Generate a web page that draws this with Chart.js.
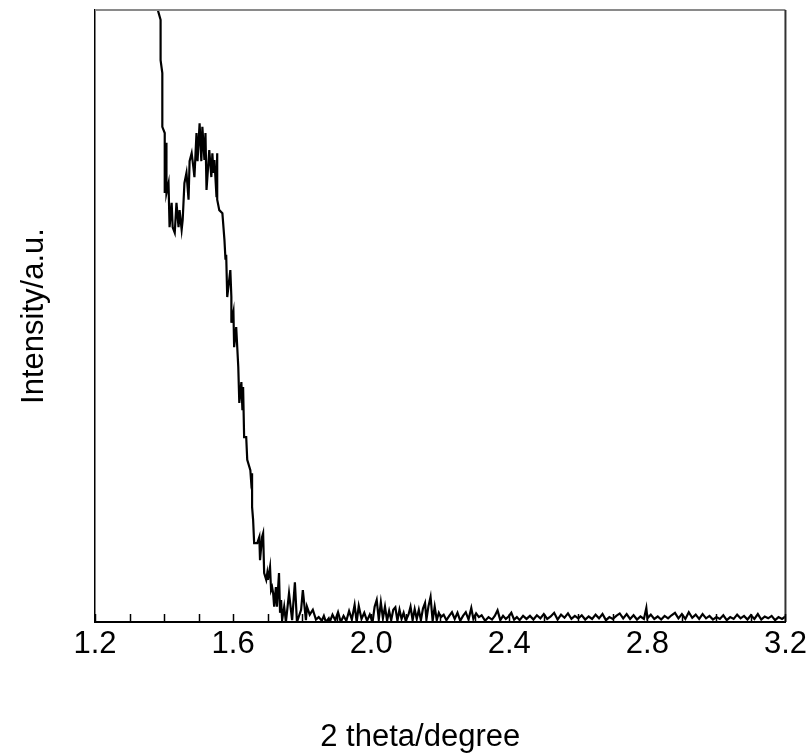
<!DOCTYPE html>
<html>
<head>
<meta charset="utf-8">
<script src="https://cdn.jsdelivr.net/npm/chart.js@4/dist/chart.umd.min.js"></script>
<style>
html,body{margin:0;padding:0;background:#fff;}
#wrap{width:811px;height:756px;position:relative;}
</style>
</head>
<body>
<div id="wrap"><canvas id="c" width="811" height="756"></canvas></div>
<script>
// 2 theta (degree)
const twoTheta = [
1.380,1.383,1.390,1.390,1.395,1.395,1.402,1.402,1.407,1.407,1.413,1.416,1.422,1.425,1.431,1.436,1.442,1.445,1.451,1.454,
1.459,1.465,1.471,1.474,1.480,1.485,1.488,1.494,1.497,1.503,1.508,1.511,1.517,1.520,1.523,1.531,1.537,1.540,1.543,1.546,
1.552,1.554,1.554,1.560,1.569,1.575,1.578,1.580,1.583,1.592,1.595,1.595,1.601,1.603,1.609,1.615,1.618,1.624,1.627,1.629,
1.632,1.638,1.641,1.650,1.652,1.655,1.655,1.658,1.661,1.670,1.676,1.678,1.684,1.687,1.690,1.696,1.699,1.701,1.707,1.710,
1.713,1.716,1.719,1.724,1.727,1.733,1.736,1.739,1.742,1.748,1.753,1.762,1.771,1.779,1.785,1.797,1.802,1.811,1.814,1.822,
1.831,1.840,1.848,1.857,1.863,1.869,1.877,
1.880,1.888,1.896,1.904,1.912,1.920,1.928,1.936,1.944,1.952,1.958,1.964,1.972,1.980,1.988,1.996,2.004,2.010,2.016,2.022,
2.028,2.034,2.040,2.046,2.052,2.058,2.064,2.070,2.076,2.082,2.088,2.094,2.100,2.108,2.114,2.120,2.126,2.132,2.138,2.144,
2.150,2.156,2.160,2.166,2.172,2.178,2.184,2.190,2.196,2.202,2.210,2.218,2.226,2.234,2.242,2.250,2.258,2.266,2.274,2.282,
2.290,2.296,2.304,2.312,2.320,2.330,2.340,2.350,2.358,2.366,2.374,2.382,2.390,2.398,2.406,2.414,2.422,2.430,2.440,2.450,
2.46,2.47,2.48,2.49,2.50,2.51,2.52,2.53,2.54,2.55,2.56,2.57,2.58,2.59,2.60,2.61,2.62,2.63,2.64,2.65,
2.66,2.67,2.68,2.69,2.70,2.71,2.72,2.73,2.74,2.75,2.76,2.77,2.78,2.79,2.797,2.80,2.81,2.82,2.83,2.84,
2.85,2.86,2.87,2.88,2.89,2.90,2.91,2.92,2.93,2.94,2.95,2.96,2.97,2.98,2.99,3.00,3.01,3.02,3.03,3.04,
3.05,3.06,3.07,3.08,3.09,3.10,3.11,3.12,3.13,3.14,3.15,3.16,3.17,3.18,3.19,3.20
];
// Intensity (a.u.)
const intensity = [
104,99.8,98.4,91.8,89.7,80.9,79.9,70.1,78.3,70.1,71.7,64.5,68.5,64.5,63.6,68.5,64.5,67.3,64.1,65.7,
71.7,73.4,69.0,75.3,76.6,74.3,72.7,79.9,75.3,81.5,75.3,80.9,75.5,79.9,70.6,77.1,72.7,76.6,73.4,75.5,
69.4,76.6,69.0,67.3,66.8,62.4,59.2,60.0,53.1,57.5,53.1,48.9,50.7,44.9,48.2,41.7,35.8,39.2,34.6,38.4,
30.2,30.2,26.5,24.8,23.2,24.3,18.8,16.7,12.9,12.9,13.9,10.1,13.9,14.5,8.0,6.9,8.0,6.9,9.0,5.2,
5.7,4.7,2.5,5.7,2.5,8.0,1.5,3.6,0.3,2.5,0.0,4.7,0.3,6.5,0.0,2.0,5.2,0.3,2.5,1.2,
2.0,0.4,0.8,0.2,1.0,0.0,0.6,
0.0,1.2,0.3,1.6,0.0,1.0,0.2,1.8,0.4,2.8,0.0,2.6,0.5,1.5,0.2,1.2,0.0,2.5,3.6,0.4,
3.2,0.6,2.5,0.2,1.8,0.3,2.0,2.4,0.2,2.0,0.5,1.5,0.2,1.2,2.5,0.3,2.1,0.5,2.0,0.3,
2.2,3.1,0.4,2.6,4.1,0.2,2.5,0.3,1.5,0.8,1.2,0.3,1.0,1.6,0.5,1.5,0.2,1.0,1.6,0.4,
2.3,0.5,1.4,0.8,1.1,0.2,0.8,0.4,1.0,1.9,0.3,1.0,0.5,0.9,1.5,0.4,0.8,0.3,1.0,0.5,
1.0,0.4,1.1,0.6,1.3,0.5,0.9,1.5,0.4,1.2,0.7,1.4,0.5,1.0,0.6,1.1,0.4,0.9,0.5,1.2,
0.6,1.3,0.3,0.8,0.5,1.0,1.4,0.6,1.3,0.5,1.1,0.4,0.9,0.5,2.3,0.6,1.2,0.5,0.9,0.4,
1.0,0.6,1.1,1.5,0.6,1.3,0.5,1.6,0.7,1.2,0.5,1.3,0.6,1.0,0.4,0.8,0.5,1.1,0.3,0.8,
0.5,1.2,0.6,1.0,0.4,1.1,0.5,1.3,0.4,0.9,0.6,1.0,0.3,0.8,0.5,0.9
];
const xTickValues = [1.2,1.6,2.0,2.4,2.8,3.2];
const xTitle = '2 theta/degree';
const yTitle = 'Intensity/a.u.';

const points = twoTheta.map((x,i)=>({x:x, y:intensity[i]}));
const FONT = "'Liberation Sans', Arial, Helvetica, sans-serif";

const frame = {
  id:'frame',
  afterDatasetsDraw(chart){
    const {ctx, chartArea:a, scales} = chart;
    ctx.save();
    ctx.strokeStyle = '#8a8a8a'; ctx.lineWidth = 2;
    ctx.beginPath(); ctx.moveTo(a.left, a.top); ctx.lineTo(a.right, a.top); ctx.stroke();
    ctx.strokeStyle = '#333'; ctx.lineWidth = 2;
    ctx.beginPath(); ctx.moveTo(a.right, a.top); ctx.lineTo(a.right, a.bottom); ctx.stroke();
    ctx.strokeStyle = '#000'; ctx.lineWidth = 1.5;
    scales.x.ticks.forEach(t=>{
      const px = Math.round(scales.x.getPixelForValue(t.value));
      ctx.beginPath(); ctx.moveTo(px+0.5, a.bottom); ctx.lineTo(px+0.5, a.bottom-8); ctx.stroke();
    });
    ctx.restore();
  },
  afterDraw(chart){
    const {ctx, scales} = chart;
    ctx.save();
    ctx.fillStyle = '#000';
    ctx.font = "31px " + FONT;
    ctx.textAlign = 'center';
    ctx.textBaseline = 'middle';
    const cx = (scales.x.left + scales.x.right) / 2 - 20;
    ctx.fillText(xTitle, cx, 737);
    ctx.restore();
  }
};

new Chart(document.getElementById('c'), {
  type:'line',
  data:{datasets:[{data:points, borderColor:'#000', borderWidth:2.2, pointRadius:0, tension:0, fill:false}]},
  options:{
    responsive:false, animation:false, devicePixelRatio:1,
    layout:{padding:{top:10, right:22, bottom:0, left:0}},
    plugins:{legend:{display:false}, tooltip:{enabled:false}},
    scales:{
      x:{
        type:'linear', min:1.2, max:3.2,
        grid:{display:true, drawOnChartArea:false, drawTicks:false},
        border:{display:true, color:'#000', width:2},
        ticks:{
          stepSize:0.1, autoSkip:false, maxRotation:0, padding:4, color:'#000',
          font:{family:FONT, size:31},
          callback:(v)=>{ const r = Math.round(v*10)/10; return xTickValues.some(t=>Math.abs(t-r)<1e-6) ? r.toFixed(1) : ''; }
        },
        title:{display:false},
        afterFit:(s)=>{ s.height = 134; }
      },
      y:{
        type:'linear', min:0, max:100,
        grid:{display:false, drawTicks:false},
        border:{display:true, color:'#000', width:1.5},
        ticks:{display:false},
        title:{display:true, text:yTitle, color:'#000', font:{family:FONT, size:31}, padding:{top:16,bottom:0}},
        afterFit:(s)=>{ s.width = 95; }
      }
    }
  },
  plugins:[frame]
});
</script>
</body>
</html>
